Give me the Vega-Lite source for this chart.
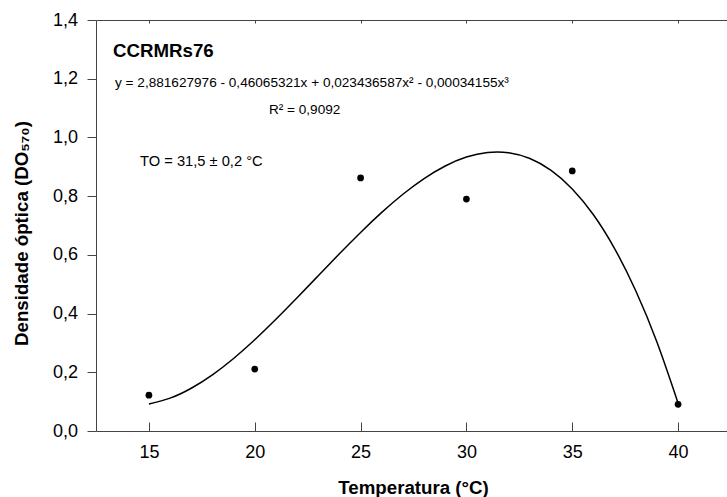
{
  "$schema": "https://vega.github.io/schema/vega-lite/v6.json",
  "width": 635,
  "height": 411,
  "autosize": {"type": "none"},
  "padding": {"left": 96, "top": 20, "right": 0, "bottom": 66},
  "background": "white",
  "config": {
    "view": {"stroke": null},
    "font": "Liberation Sans",
    "axis": {
      "grid": false,
      "domainColor": "#444444",
      "tickColor": "#444444",
      "domainWidth": 1,
      "tickWidth": 1,
      "labelColor": "black",
      "titleColor": "black",
      "labelFont": "Liberation Sans",
      "titleFont": "Liberation Sans",
      "labelFlush": false,
      "labelOverlap": false
    }
  },
  "resolve": {"axis": {"x": "independent", "y": "independent"}},
  "layer": [
    {
      "data": {"values": [
        {"x": 15, "y": 0.0923}, {"x": 16, "y": 0.1120}, {"x": 17, "y": 0.1457}, {"x": 18, "y": 0.1914},
        {"x": 19, "y": 0.2471}, {"x": 20, "y": 0.3108}, {"x": 21, "y": 0.3804}, {"x": 22, "y": 0.4537},
        {"x": 23, "y": 0.5289}, {"x": 24, "y": 0.6038}, {"x": 25, "y": 0.6764}, {"x": 26, "y": 0.7447},
        {"x": 27, "y": 0.8065}, {"x": 28, "y": 0.8599}, {"x": 29, "y": 0.9028}, {"x": 30, "y": 0.9331},
        {"x": 31, "y": 0.9488}, {"x": 32, "y": 0.9479}, {"x": 33, "y": 0.9282}, {"x": 34, "y": 0.8878},
        {"x": 35, "y": 0.8246}, {"x": 36, "y": 0.7366}, {"x": 37, "y": 0.6216}, {"x": 38, "y": 0.4777},
        {"x": 39, "y": 0.3028}, {"x": 40, "y": 0.0948}
      ]},
      "mark": {"type": "line", "color": "black", "strokeWidth": 1.5, "interpolate": "natural"},
      "encoding": {
        "x": {
          "field": "x", "type": "quantitative",
          "scale": {"domain": [12.5, 42.5], "nice": false, "zero": false},
          "axis": {
            "orient": "bottom",
            "values": [15, 20, 25, 30, 35, 40],
            "ticks": false,
            "labelPadding": 26,
            "labelBaseline": "alphabetic",
            "labelFontSize": 18,
            "title": "Temperatura (°C)",
            "titleFontSize": 18.7,
            "titleFontWeight": "bold",
            "titleBaseline": "alphabetic",
            "titleY": 62,
            "titleX": 317
          }
        },
        "y": {
          "field": "y", "type": "quantitative",
          "scale": {"domain": [0, 1.4], "nice": false, "zero": true},
          "axis": {
            "orient": "left",
            "values": [0, 0.2, 0.4, 0.6, 0.8, 1.0, 1.2, 1.4],
            "labelExpr": "replace(format(datum.value, '.1f'), '.', ',')",
            "tickSize": 9,
            "labelPadding": 9.5,
            "labelFontSize": 18,
            "title": "Densidade óptica (DO₅₇₀)",
            "titleFontSize": 18.7,
            "titleFontWeight": "bold",
            "titleBaseline": "alphabetic",
            "titleX": -69,
            "titleY": 213
          }
        }
      }
    },
    {
      "data": {"values": [
        {"x": 15, "y": 0.122}, {"x": 20, "y": 0.211}, {"x": 25, "y": 0.862},
        {"x": 30, "y": 0.790}, {"x": 35, "y": 0.886}, {"x": 40, "y": 0.091}
      ]},
      "mark": {"type": "point", "filled": true, "color": "black", "opacity": 1, "size": 45},
      "encoding": {
        "x": {
          "field": "x", "type": "quantitative",
          "axis": {"orient": "top", "values": [15, 20, 25, 30, 35, 40], "labels": false, "title": null, "ticks": false}
        },
        "y": {"field": "y", "type": "quantitative", "axis": null}
      }
    },
    {
      "data": {"values": [{"x": 13.3, "y": 1.274, "label": "CCRMRs76"}]},
      "mark": {"type": "text", "align": "left", "baseline": "alphabetic", "fontSize": 18.7, "fontWeight": "bold", "color": "black"},
      "encoding": {
        "x": {
          "field": "x", "type": "quantitative",
          "axis": {"orient": "bottom", "offset": -9, "values": [15, 20, 25, 30, 35, 40], "tickSize": 9, "labels": false, "domain": false, "title": null}
        },
        "y": {"field": "y", "type": "quantitative", "axis": null},
        "text": {"field": "label"}
      }
    },
    {
      "data": {"values": [
        {"x": 13.4, "y": 1.172, "label": "y = 2,881627976 - 0,46065321x + 0,023436587x² - 0,00034155x³"},
        {"x": 20.67, "y": 1.080, "label": "R² = 0,9092"}
      ]},
      "mark": {"type": "text", "align": "left", "baseline": "alphabetic", "fontSize": 13.6, "color": "black"},
      "encoding": {
        "x": {
          "field": "x", "type": "quantitative",
          "axis": {"orient": "top", "offset": -3, "values": [15, 20, 25, 30, 35, 40], "tickSize": 3, "labels": false, "domain": false, "title": null}
        },
        "y": {"field": "y", "type": "quantitative", "axis": null},
        "text": {"field": "label"}
      }
    },
    {
      "data": {"values": [{"x": 14.58, "y": 0.9026, "label": "TO = 31,5 ± 0,2 °C"}]},
      "mark": {"type": "text", "align": "left", "baseline": "alphabetic", "fontSize": 14.7, "color": "black"},
      "encoding": {
        "x": {"field": "x", "type": "quantitative", "axis": null},
        "y": {"field": "y", "type": "quantitative", "axis": null},
        "text": {"field": "label"}
      }
    }
  ]
}
